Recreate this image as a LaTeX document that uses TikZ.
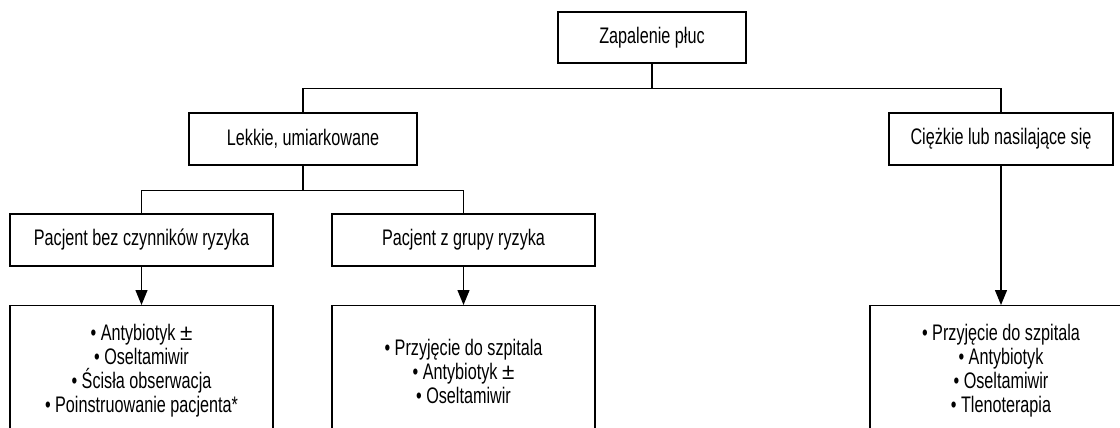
\documentclass[tikz,border=0pt]{standalone}
\usepackage{fontspec}
\setmainfont{Liberation Sans}[FakeStretch=0.72]
\newfontfamily\pmfont{Liberation Sans}
\newcommand{\pmsign}{{\pmfont ±}}
\usetikzlibrary{arrows.meta}
\begin{document}
\begin{tikzpicture}[x=1pt,y=-1pt,
  box/.style={draw, line width=1.3pt, inner sep=0pt, align=center, font=\fontsize{22.5}{24}\selectfont},
  link/.style={line width=1.3pt},
  arr/.style={line width=1.3pt, -{Triangle[width=12pt,length=15pt]}}]
\useasboundingbox (0,0) rectangle (1120,428);
\clip (0,0) rectangle (1120,428);
% level 0
\node[box, minimum width=188pt, minimum height=51pt] (z) at (652,37.5) {Zapalenie płuc};
% level 1
\node[box, minimum width=228pt, minimum height=52pt] (lek) at (303,139) {Lekkie, umiarkowane};
\node[box, minimum width=224pt, minimum height=52pt] (ciez) at (1001,139) {Ciężkie lub nasilające się};
% level 2
\node[box, minimum width=263pt, minimum height=52pt] (bez) at (141.5,240) {Pacjent bez czynników ryzyka};
\node[box, minimum width=263pt, minimum height=52pt] (grp) at (463.5,240) {Pacjent z grupy ryzyka};
% level 3
\node[box, minimum width=263pt, minimum height=131pt, anchor=north] (bezb) at (141.5,305)
  {• Antybiotyk \pmsign\\ • Oseltamiwir\\ • Ścisła obserwacja\\ • Poinstruowanie pacjenta*};
\node[box, minimum width=263pt, minimum height=131pt, anchor=north] (grpb) at (463.5,305)
  {• Przyjęcie do szpitala\\ • Antybiotyk \pmsign\\ • Oseltamiwir};
\node[box, minimum width=262pt, minimum height=131pt, anchor=north] (ciezb) at (1001,305)
  {• Przyjęcie do szpitala\\ • Antybiotyk\\ • Oseltamiwir\\ • Tlenoterapia};
% connectors
\draw[link] (z.south) -- ++(0,25) -| (lek.north);
\draw[link] (z.south) -- ++(0,25) -| (ciez.north);
\draw[link] (lek.south) -- ++(0,25) -| (bez.north);
\draw[link] (lek.south) -- ++(0,25) -| (grp.north);
\draw[arr] (bez.south) -- (bezb.north);
\draw[arr] (grp.south) -- (grpb.north);
\draw[arr] (ciez.south) -- (ciezb.north);
\end{tikzpicture}
\end{document}
